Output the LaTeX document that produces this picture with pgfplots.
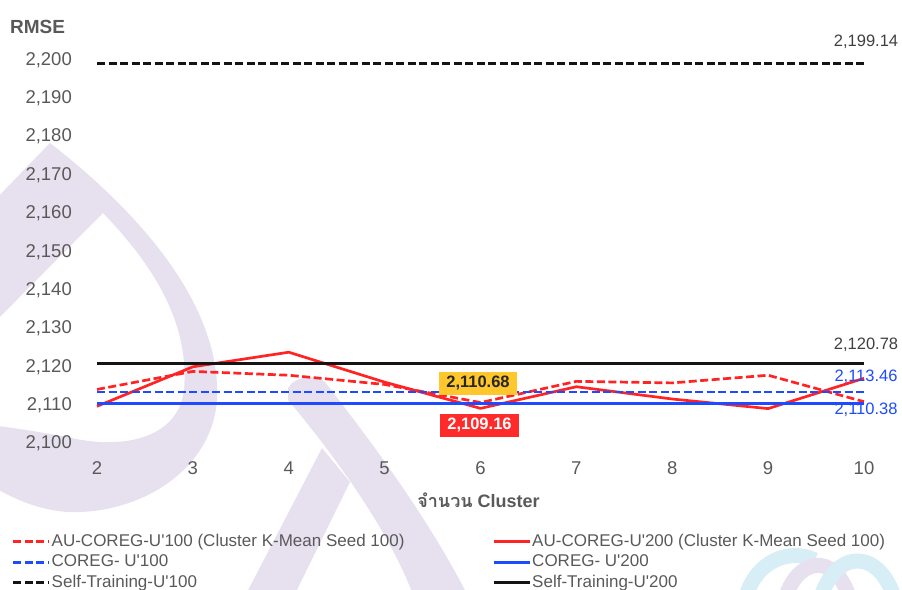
\documentclass[border=0pt]{standalone}
\usepackage{pgfplots}
\pgfplotsset{compat=1.18}
\usepackage{pgfplotstable}
\usepackage{fontspec}
\setmainfont{Liberation Sans}[Ligatures=TeXOff]
\newfontfamily\thaifont[Script=Thai]{Loma}

\definecolor{lred}{RGB}{255,35,35}
\definecolor{lblue}{RGB}{30,75,255}
\definecolor{lblack}{RGB}{20,20,20}
\definecolor{tickgray}{RGB}{89,89,89}
\definecolor{textgray}{RGB}{64,64,64}
\definecolor{textdark}{RGB}{38,38,38}
\definecolor{boxyellow}{RGB}{255,199,44}
\definecolor{boxred}{RGB}{255,43,43}
\definecolor{wmlav}{RGB}{231,225,239}
\definecolor{wmblue}{RGB}{216,238,246}

% RMSE per number of clusters
\pgfplotstableread{
k   auU100    auU200
2   2114.1    2109.7
3   2118.8    2120.0
4   2117.8    2123.8
5   2115.4    2116.0
6   2110.68   2109.16
7   2116.2    2114.8
8   2115.8    2111.6
9   2117.8    2109.1
10  2110.9    2117.0
}\aucoreg

% baselines (constant over k)
\pgfplotstableread{
k   coU100    coU200    stU100    stU200
2   2113.46   2110.38   2199.14   2120.78
10  2113.46   2110.38   2199.14   2120.78
}\baselines

\tikzset{dashedline/.style={dash pattern=on 8bp off 3.5bp}}

\begin{document}
\begin{tikzpicture}
\path[use as bounding box] (0,0) rectangle (902bp,590bp);

% faint background emblem
\begin{scope}[shift={(0,590bp)}, x=1bp, y=-1bp]
  \fill[wmlav, even odd rule]
    (50,143) .. controls (130,205) and (222,300) .. (217,400)
             .. controls (212,470) and (140,515) .. (67,512)
             .. controls (40,510) and (15,500) .. (-10,485)
             -- (-10,205) -- cycle
    (103,213) .. controls (150,262) and (190,320) .. (184,390)
              .. controls (178,440) and (120,450) .. (67,437)
              .. controls (40,432) and (15,428) .. (-10,425)
              -- (-10,327) -- cycle;
  \fill[wmlav]
    (288,388) .. controls (295,376) and (315,374) .. (325,382)
              .. controls (370,440) and (430,520) .. (470,600)
              -- (415,600) .. controls (390,530) and (330,450) .. (288,400) -- cycle;
  \fill[wmlav] (322,448) -- (350,482) -- (292,600) -- (243,600) -- cycle;
  \draw[wmblue, line width=15bp] (745,600) .. controls (755,560) and (790,548) .. (815,560);
  \draw[wmlav, line width=15bp] (785,600) .. controls (795,560) and (835,548) .. (850,600);
  \draw[wmblue, line width=15bp] (820,600) .. controls (835,548) and (880,548) .. (895,600);
\end{scope}

\begin{axis}[
  at={(97bp,146.5bp)}, anchor=south west,
  scale only axis, width=767bp, height=383.5bp,
  xmin=2, xmax=10, ymin=2100, ymax=2200,
  xtick={2,3,...,10}, ytick={2100,2110,...,2200},
  scaled y ticks=false,
  axis line style={draw=none},
  major tick length=0pt, tick style={draw=none},
  /pgf/number format/assume math mode=true,
  /pgf/number format/1000 sep={,},
  ticklabel style={font=\fontsize{18.5bp}{22bp}\selectfont, text=tickgray, inner sep=0pt},
  yticklabel style={anchor=east, xshift=-25bp},
  xticklabel style={anchor=center, yshift=-24.5bp},
  xlabel={{\thaifont\bfseries จำนวน} Cluster},
  xlabel style={font=\bfseries\fontsize{18bp}{21bp}\selectfont, text=tickgray,
    at={(axis description cs:0.5,0)}, anchor=center, yshift=-56.5bp, xshift=-2bp, inner sep=0pt},
  clip=false,
  legend columns=2,
  legend cell align=left,
  legend image code/.code={\draw[#1] (0bp,0bp) -- (36bp,0bp);},
  legend style={
    at={(axis description cs:-0.1108,-0.236)}, anchor=north west,
    draw=none, fill=none, inner sep=0pt, outer sep=0pt,
    font=\fontsize{17bp}{20bp}\selectfont, text=tickgray,
    nodes={inner xsep=1bp, inner ysep=0pt, text height=12bp, text depth=3.5bp},
    row sep=5bp, column sep=0pt,
    /tikz/column 2/.style={column sep=87bp},
  },
  every axis plot/.append style={line width=2.7bp, line join=round},
]
\addplot[lred, dashedline] table[x=k, y=auU100] {\aucoreg};
\addlegendentry{AU-COREG-U'100 (Cluster K-Mean Seed 100)}
\addplot[lred] table[x=k, y=auU200] {\aucoreg};
\addlegendentry{AU-COREG-U'200 (Cluster K-Mean Seed 100)}
\addplot[lblue, dashedline] table[x=k, y=coU100] {\baselines};
\addlegendentry{COREG- U'100}
\addplot[lblue] table[x=k, y=coU200] {\baselines};
\addlegendentry{COREG- U'200}
\addplot[lblack, dashedline] table[x=k, y=stU100] {\baselines};
\addlegendentry{Self-Training-U'100}
\addplot[lblack] table[x=k, y=stU200] {\baselines};
\addlegendentry{Self-Training-U'200}

% value labels
\begin{scope}[every node/.style={font=\fontsize{16.5bp}{19bp}\selectfont, inner sep=0pt}]
  \node[text=textgray, xshift=2bp, yshift=21bp] at (axis cs:10,2199.14) {2,199.14};
  \node[text=textgray, xshift=2bp, yshift=19bp] at (axis cs:10,2120.78) {2,120.78};
  \node[text=lblue, xshift=2bp, yshift=15bp] at (axis cs:10,2113.46) {2,113.46};
  \node[text=lblue, xshift=2bp, yshift=-6.5bp] at (axis cs:10,2110.38) {2,110.38};
  \node[fill=boxyellow, text=textdark, font=\bfseries\fontsize{16.5bp}{19bp}\selectfont,
        minimum width=78bp, minimum height=23bp, xshift=-2.5bp, yshift=19.5bp]
        at (axis cs:6,2110.68) {2,110.68};
  \node[fill=boxred, text=white, font=\bfseries\fontsize{16.5bp}{19bp}\selectfont,
        minimum width=79bp, minimum height=23bp, xshift=-1bp, yshift=-17bp]
        at (axis cs:6,2109.16) {2,109.16};
\end{scope}
\end{axis}

\node[font=\bfseries\fontsize{19bp}{22bp}\selectfont, text=tickgray] at (37.5bp,563bp) {RMSE};
\end{tikzpicture}
\end{document}
